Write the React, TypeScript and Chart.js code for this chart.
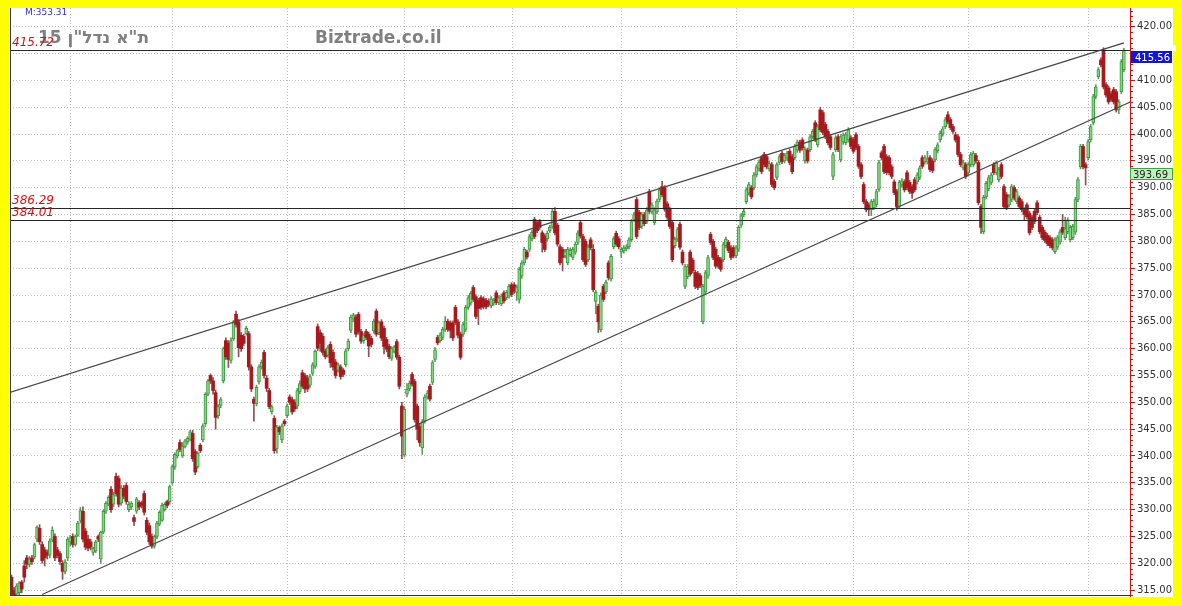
import React, { useEffect, useRef } from 'react';
import { Chart, registerables } from 'chart.js';

Chart.register(...registerables);

// ---- data (daily candles, oldest first) ----
const opens = [
  317.4,315.0,314.3,314.5,316.5,319.5,321.0,319.8,321.0,321.2,
  324.5,326.5,323.5,322.5,322.0,321.5,324.3,325.0,322.5,321.8,
  320.0,318.5,321.0,324.0,325.0,323.5,325.2,328.0,329.7,326.0,
  324.5,324.0,322.0,322.3,325.0,320.8,325.8,329.7,331.0,333.8,
  331.0,336.2,335.8,331.2,334.0,334.5,330.0,330.5,328.5,329.7,
  331.3,331.3,333.0,328.0,327.0,325.0,323.2,325.0,327.3,328.0,
  330.0,331.5,331.5,335.0,337.9,340.0,342.5,340.0,341.8,342.6,
  343.1,344.2,340.8,338.0,342.0,343.0,346.0,351.5,355.0,354.0,
  351.8,347.5,349.4,354.0,361.5,361.0,357.8,361.8,366.4,365.0,
  362.5,362.3,362.8,362.8,356.6,350.6,349.7,353.8,356.6,359.3,
  354.5,352.2,348.2,347.0,341.3,345.3,343.0,346.5,347.5,351.0,
  350.5,
  350.0,349.3,352.0,355.5,355.0,354.5,353.2,355.4,356.7,364.1,
  363.0,362.3,359.5,358.8,360.8,359.3,357.5,356.0,356.6,356.0,
  357.0,360.0,363.4,365.5,365.9,366.4,363.2,361.5,363.2,362.7,
  361.9,363.3,367.0,363.0,365.0,363.8,361.7,360.4,358.2,359.5,
  361.3,358.4,349.3,340.2,351.5,352.5,355.2,353.9,349.3,345.5,
  341.5,346.5,351.0,353.0,353.7,358.0,362.1,361.5,362.1,363.6,
  365.1,364.8,364.8,367.7,365.0,362.7,362.7,363.6,367.7,368.5,
  371.4,369.7,369.0,369.5,369.3,369.0,368.8,368.0,368.5,370.4,368.6,
  368.4,370.4,369.5,369.8,371.9,371.9,370.5,369.2,373.5,376.0,
  378.0,378.5,380.5,384.1,383.5,383.7,381.6,381.0,380.5,382.0,
  382.8,385.6,383.0,379.0,378.5,377.3,376.0,377.5,377.0,378.0,379.8,
  383.5,380.9,380.0,376.6,380.3,378.5,368.8,367.9,363.5,371.6,
  370.6,376.0,373.0,379.0,381.5,380.5,378.0,378.2,378.6,379.0,380.3,
  384.1,387.8,385.4,382.8,385.0,383.7,389.3,385.5,383.5,385.5,
  387.8,390.2,390.0,387.0,386.0,383.5,379.2,380.4,383.2,378.0,
  371.6,373.4,378.0,376.5,374.2,374.0,373.6,365.0,370.6,373.5,
  381.3,380.0,378.5,377.0,376.6,376.6,379.2,379.8,378.8,378.8,
  377.3,378.5,383.0,385.0,387.4,389.0,390.0,390.0,392.4,393.5,
  395.6,396.2,395.8,393.5,394.3,391.2,391.9,394.7,396.4,395.0,
  395.5,396.8,395.8,395.6,397.0,398.5,398.9,395.0,397.0,397.1,
  399.5,402.1,398.0,404.5,404.0,401.8,400.5,399.5,392.1,397.1,
  399.5,395.2,398.5,398.4,398.9,399.3,399.0,399.9,397.7,394.3,
  390.6,387.4,
  386.8,385.9,386.3,386.8,389.7,396.5,397.7,395.8,395.6,393.9,
  391.1,389.3,386.5,390.5,391.1,392.8,391.0,390.2,391.5,391.1,
  391.9,395.6,394.8,394.8,395.6,395.0,395.2,396.9,398.9,400.0,
  401.4,403.6,402.7,401.4,399.9,399.5,396.2,393.7,394.3,
  392.8,394.3,394.3,396.0,394.7,386.5,381.8,388.3,389.8,391.0,
  394.3,392.8,391.5,394.3,390.2,388.7,386.8,387.8,390.0,387.4,
  388.1,387.4,385.9,386.8,385.2,384.5,385.6,387.2,384.5,
  382.6,381.7,381.1,380.7,380.3,378.1,378.9,379.9,382.6,
  380.7,381.8,380.3,380.7,381.7,387.8,393.9,397.7,394.3,395.6,
  398.9,402.1,407.0,410.7,413.8,415.7,409.2,408.6,407.5,408.3,
  407.9,404.5,407.9,412.0,
];

const highs = [
  317.8,315.5,316.2,316.6,316.8,320.5,321.5,321.3,321.5,323.8,
  327.0,327.2,324.0,323.0,322.5,324.6,326.8,325.5,323.0,322.2,
  320.5,320.7,324.8,325.2,325.5,325.3,327.8,330.4,330.5,326.5,
  325.2,324.5,323.0,324.3,325.3,326.0,330.0,331.5,332.6,334.3,
  333.2,336.8,336.3,334.5,334.5,335.0,331.5,331.5,329.0,332.3,
  331.7,331.6,333.5,328.5,327.5,325.5,325.3,327.8,329.8,331.2,
  331.3,331.8,334.6,338.3,340.6,341.3,343.0,342.5,343.1,343.6,
  344.8,344.8,341.2,340.8,342.3,346.0,351.8,354.3,355.3,354.6,
  352.3,349.6,350.9,360.3,362.0,361.5,362.0,365.3,367.0,365.5,
  363.0,362.7,364.2,363.2,357.0,351.0,353.2,357.0,357.9,359.7,
  355.0,352.6,349.5,347.5,345.7,345.6,346.0,346.8,349.7,351.4,
  351.0,
  350.5,352.6,354.0,356.0,355.4,355.0,355.2,357.4,359.8,364.6,
  363.5,362.8,359.9,360.6,361.3,359.8,358.0,357.3,357.0,356.3,
  360.0,361.8,366.3,366.6,366.3,366.8,363.6,362.9,363.6,363.1,
  362.3,365.5,367.4,365.2,365.4,364.2,362.1,360.8,360.4,360.6,
  361.7,358.8,350.0,349.2,353.5,354.0,355.6,354.3,349.7,346.0,
  346.8,351.4,352.2,353.4,357.8,360.2,362.5,363.0,364.0,366.0,
  365.5,365.2,365.2,368.1,365.4,363.1,364.9,368.1,369.9,370.7,
  371.8,370.1,369.4,369.9,369.7,369.4,369.3,369.7,369.4,370.8,369.9,
  370.2,370.8,370.9,372.0,372.3,372.3,371.9,375.2,376.4,378.9,
  378.4,381.3,382.1,384.5,383.9,384.1,382.0,381.4,381.9,383.0,
  386.1,386.3,383.4,379.4,378.9,378.5,378.9,378.8,378.9,379.9,382.0,
  383.9,381.3,380.4,379.4,380.7,379.4,370.9,368.3,370.4,372.0,
  372.8,376.4,377.6,380.9,381.9,380.9,378.9,379.2,379.4,380.7,384.1,
  385.4,388.2,385.8,385.4,385.4,386.3,389.7,387.2,386.3,387.9,
  390.0,391.2,390.4,387.4,386.4,383.9,380.8,382.6,383.6,378.4,
  375.7,375.7,378.4,376.9,374.6,374.4,374.0,372.0,374.6,377.4,
  381.7,380.4,378.9,377.4,377.0,379.8,380.8,380.2,379.2,379.2,
  379.2,383.0,385.2,386.0,390.0,391.0,390.4,392.8,394.3,395.2,
  396.0,396.6,396.2,394.9,394.7,391.6,394.7,396.2,396.8,396.4,
  396.8,397.2,396.2,398.1,398.9,398.9,399.3,397.6,397.4,399.9,
  400.9,402.5,401.8,405.0,404.4,402.2,400.9,399.9,396.6,399.7,
  399.9,399.9,400.2,400.3,401.2,399.7,399.4,400.3,398.1,394.7,
  391.0,387.8,
  387.2,387.8,387.9,389.7,395.1,396.9,398.1,396.2,396.0,394.3,
  391.5,389.7,391.4,391.7,391.5,393.2,391.4,390.6,391.9,392.8,
  394.1,396.0,396.0,396.8,396.0,395.4,397.5,398.4,400.6,401.4,
  403.1,404.2,403.1,401.8,400.3,399.9,396.6,395.1,394.7,
  394.7,396.6,396.8,396.4,395.1,386.9,388.6,391.2,392.3,392.8,
  394.7,395.0,393.8,394.7,390.6,389.1,388.7,390.6,390.4,389.7,
  388.5,387.8,386.3,387.2,385.6,384.9,386.0,387.6,384.9,
  383.0,382.1,381.5,381.1,380.7,380.7,381.1,382.2,385.0,
  384.5,384.4,383.0,383.2,388.2,391.9,398.1,398.1,394.7,399.0,
  401.8,407.4,409.2,412.4,414.2,416.1,409.6,409.0,407.9,408.7,
  408.3,406.4,413.9,416.0,
];

const lows = [
  313.8,313.5,313.8,314.0,314.5,316.5,319.0,319.3,319.8,320.8,
  324.0,323.5,320.0,319.5,320.8,321.0,324.0,320.5,321.0,319.8,
  317.0,318.0,320.5,323.2,323.0,323.2,325.0,327.5,324.0,322.5,
  322.3,322.5,321.5,322.0,324.0,320.0,325.5,329.3,330.7,329.5,
  330.6,332.5,330.5,330.8,332.0,331.0,329.6,330.0,327.0,329.3,
  330.0,330.3,329.0,325.3,323.5,322.8,322.8,324.6,327.0,327.8,
  329.7,330.3,331.0,334.7,337.5,339.6,340.8,339.7,341.5,342.2,
  342.8,339.0,336.5,337.7,340.6,342.6,345.5,351.2,353.5,351.5,
  345.0,347.0,349.0,353.6,358.0,356.5,357.3,361.5,364.0,358.5,
  359.5,360.6,362.5,356.0,352.0,346.5,349.3,353.4,356.2,354.5,
  352.0,348.8,347.8,340.5,340.5,344.0,342.5,345.6,347.1,349.6,
  347.8,
  348.3,348.8,351.6,352.6,351.8,352.0,352.8,355.0,356.3,359.6,
  359.5,358.8,358.1,358.4,356.5,356.0,354.5,355.6,354.3,354.8,
  356.6,359.6,363.0,365.0,362.2,362.7,361.0,361.0,361.7,358.5,
  360.3,362.9,362.3,362.6,361.5,359.0,359.4,358.1,357.8,359.2,
  358.0,352.5,339.5,339.8,351.0,352.1,353.0,346.3,343.0,341.8,
  340.3,346.1,350.6,350.2,353.3,357.6,360.7,361.2,361.7,363.2,
  363.2,362.0,361.5,364.5,362.0,358.0,362.3,363.2,367.3,368.1,
  368.8,365.6,364.5,367.3,367.4,367.4,367.8,367.6,368.1,368.2,368.2,
  368.0,368.5,369.1,369.4,369.7,370.3,369.0,368.5,373.1,375.6,
  376.7,378.1,380.1,380.5,381.6,382.2,378.0,378.1,380.1,381.6,
  382.4,381.2,379.1,375.6,374.5,376.9,375.6,377.2,376.6,377.6,379.4,
  380.6,376.2,375.3,376.2,378.4,370.6,366.5,363.0,363.1,368.8,
  370.2,372.8,372.6,378.6,379.1,378.6,377.0,377.8,378.2,378.6,379.9,
  383.7,380.5,382.2,382.4,382.9,383.3,385.2,385.1,383.1,385.1,
  387.4,388.3,385.6,384.1,382.4,376.2,378.8,380.0,378.5,375.6,
  371.2,373.0,373.5,374.1,371.2,371.0,371.4,364.6,370.2,373.1,
  379.4,376.6,375.0,375.0,374.4,376.2,378.8,377.9,376.6,376.9,
  376.9,378.1,382.6,384.6,387.0,388.6,387.9,389.6,392.0,393.1,
  392.6,393.9,393.5,393.1,390.2,389.6,391.5,394.3,394.5,394.6,
  395.1,394.3,392.6,395.2,396.6,396.6,397.0,394.6,394.6,396.7,
  399.1,398.6,397.6,400.4,399.9,399.1,398.0,397.1,391.5,396.7,
  396.7,394.8,398.1,398.0,398.5,397.3,396.4,397.1,393.6,391.7,
  387.0,385.5,
  384.8,384.8,385.9,386.4,389.3,395.2,392.6,392.4,392.4,391.7,
  388.7,385.8,386.1,390.1,389.2,389.6,388.9,388.0,389.2,390.7,
  391.5,393.6,394.4,394.4,393.0,392.8,394.8,396.5,398.5,399.6,
  401.0,401.9,400.8,400.1,398.5,395.8,393.9,393.3,391.7,
  392.4,393.9,393.9,394.6,386.8,381.5,381.4,387.9,389.4,390.6,
  392.4,392.4,391.1,391.7,386.1,385.9,386.4,387.4,387.7,387.0,
  386.1,385.5,384.0,384.2,381.2,382.2,383.3,385.0,381.4,
  380.3,379.8,379.2,378.8,378.4,377.7,378.5,379.5,381.3,
  380.3,381.4,379.9,380.3,381.3,387.4,393.5,393.5,390.5,395.2,
  398.5,401.7,406.6,410.3,412.5,408.4,406.9,405.6,406.1,405.6,
  404.1,403.8,407.5,411.6,
];

const closes = [
  314.2,314.0,315.8,316.3,315.2,317.4,319.8,320.8,320.3,323.5,
  326.7,324.0,320.5,321.0,321.5,324.2,326.2,321.0,321.5,320.3,
  318.5,320.2,324.5,324.8,323.5,325.0,327.5,329.8,324.5,323.0,
  322.8,323.0,322.8,324.0,324.5,325.8,329.7,331.2,332.3,330.0,
  332.8,333.0,331.0,334.0,332.5,331.5,331.0,331.2,327.8,332.0,
  330.5,330.8,329.5,325.8,324.0,323.2,325.0,327.5,329.5,330.8,
  331.0,330.8,334.3,338.0,340.3,341.0,341.2,341.8,342.8,343.3,
  344.5,339.5,337.0,340.5,341.0,345.6,351.5,354.0,354.0,352.2,
  347.2,349.2,350.5,360.0,358.5,358.0,361.5,365.0,364.5,360.2,
  360.0,361.0,363.8,356.6,352.5,349.8,352.8,356.6,357.5,355.0,
  352.6,349.2,349.2,341.0,345.4,344.5,345.6,346.0,349.3,350.0,
  348.2,
  348.8,352.2,353.5,353.0,352.5,352.5,354.8,357.0,359.5,360.1,
  361.0,359.3,358.5,360.2,357.4,356.6,355.0,357.0,354.8,355.2,
  359.6,361.4,365.9,366.3,362.7,363.2,361.4,362.5,362.1,360.5,
  360.8,365.1,362.7,364.8,362.0,360.4,359.9,358.5,360.0,360.3,
  358.4,353.0,343.7,348.7,352.4,353.6,353.4,346.8,345.0,342.5,
  346.4,351.0,351.7,350.6,357.4,359.8,361.1,362.6,363.6,365.1,
  363.6,363.4,362.0,364.9,362.5,358.4,364.5,367.7,369.5,370.3,
  369.2,366.0,367.5,367.7,367.8,367.8,368.2,369.3,369.0,368.6,369.5,
  369.8,368.9,370.5,371.6,370.1,370.7,371.5,374.8,376.0,378.5,
  377.1,380.9,381.7,380.9,382.0,382.6,379.8,378.5,381.5,382.6,
  385.6,381.6,379.5,376.0,377.0,378.1,378.5,378.4,378.5,379.5,381.6,
  381.0,376.6,375.7,379.0,378.8,371.0,370.5,365.0,370.0,369.2,
  372.4,373.2,377.2,380.5,379.5,379.0,378.5,378.8,379.0,380.3,383.7,
  385.0,380.9,382.6,385.0,383.3,385.9,385.6,386.8,385.9,387.5,
  389.6,388.7,386.0,384.5,382.8,376.6,380.4,382.2,378.9,376.0,
  375.3,375.3,373.9,374.5,371.6,371.4,371.8,371.6,374.2,377.0,
  379.8,377.0,375.4,375.4,374.8,379.4,380.4,378.3,377.0,377.3,
  378.8,382.6,384.8,385.6,389.6,390.6,388.3,392.4,393.9,394.8,
  393.0,394.3,393.9,394.5,390.6,390.0,394.3,395.8,394.9,396.0,
  396.4,394.7,393.0,397.7,398.5,397.0,397.4,397.2,395.0,399.5,
  400.5,399.0,401.4,400.8,400.3,399.5,398.4,397.5,396.2,399.3,
  397.1,399.5,399.8,399.9,400.8,397.7,396.8,397.5,394.0,392.1,
  387.4,385.9,
  385.9,387.4,387.5,389.3,394.7,395.6,393.0,392.8,392.8,392.1,
  389.1,386.5,391.0,391.3,389.6,390.0,389.3,389.0,389.6,392.4,
  393.7,394.0,395.6,395.4,393.4,393.2,397.1,398.0,400.2,401.0,
  402.7,402.3,401.2,400.5,398.9,396.2,394.3,394.7,392.1,
  394.3,396.2,396.4,395.0,387.2,382.6,388.2,390.8,391.9,392.4,
  392.8,394.6,393.4,392.1,386.5,386.3,388.3,390.2,388.1,389.3,
  386.5,385.9,385.0,384.6,381.6,382.6,383.7,385.4,381.8,
  380.7,380.2,379.6,379.2,378.8,380.3,380.7,381.8,381.7,
  382.4,384.0,382.6,382.8,387.8,391.5,397.7,393.9,393.7,398.6,
  401.4,407.0,408.8,412.0,412.9,408.8,407.3,406.0,406.5,406.0,
  404.5,406.0,413.5,415.56,
];

// sessions where the vertical grid lines fall
const gridSessions = [23, 63, 108, 154, 196, 239, 284, 330, 375, 422];
// horizontal support/resistance levels and their captions
const levelValues = [415.72, 386.29, 384.01];
const levelCaptions = ['415.72', '386.29', '384.01'];
// trend lines: two anchor points each (session, price)
const upperTrend = [{ s: -1, v: 351.8 }, { s: 436, v: 417.0 }];
const lowerTrend = [{ s: 12, v: 314.2 }, { s: 439, v: 406.1 }];
const lastPrice = 415.56;
const avgPrice = 393.69;
const avgCaption = 'M:353.31';
const titleText = 'ת"א נדל"ן 15';
const brandText = 'Biztrade.co.il';
const yMin = 313.9;
const yMax = 423.5;
const yStep = 5;

const RED = '#a8181c';
const GREEN_FILL = '#86d486';
const GREEN_EDGE = '#3c9a3c';
const RED_WICK = '#8e5050';
const GREEN_WICK = '#5c9c5c';
const FONT = '"DejaVu Sans", Verdana, sans-serif';

const overlay = {
  id: 'overlay',
  beforeDatasetsDraw(chart: any) {
    const { ctx, chartArea: a, scales } = chart;
    const x = scales.x;
    ctx.save();
    ctx.strokeStyle = '#b9b9b9';
    ctx.lineWidth = 1;
    ctx.setLineDash([1, 2]);
    for (const d of gridSessions) {
      const px = Math.round(x.getPixelForValue(d)) + 0.5;
      ctx.beginPath();
      ctx.moveTo(px, a.top);
      ctx.lineTo(px, a.bottom);
      ctx.stroke();
    }
    ctx.restore();
  },
  afterDraw(chart: any) {
    const { ctx, chartArea: a, scales } = chart;
    const x = scales.x;
    const y = scales.y;
    ctx.save();

    // horizontal levels
    ctx.strokeStyle = '#262626';
    ctx.lineWidth = 1;
    levelValues.forEach((v) => {
      const py = Math.round(y.getPixelForValue(v)) + 0.5;
      ctx.beginPath();
      ctx.moveTo(a.left, py);
      ctx.lineTo(a.right, py);
      ctx.stroke();
    });

    // trend lines, clipped to plot
    ctx.save();
    ctx.beginPath();
    ctx.rect(a.left, a.top, a.right - a.left, a.bottom - a.top);
    ctx.clip();
    ctx.strokeStyle = '#454545';
    ctx.lineWidth = 1.1;
    [upperTrend, lowerTrend].forEach((t) => {
      ctx.beginPath();
      ctx.moveTo(x.getPixelForValue(t[0].s), y.getPixelForValue(t[0].v));
      ctx.lineTo(x.getPixelForValue(t[1].s), y.getPixelForValue(t[1].v));
      ctx.stroke();
    });
    ctx.restore();

    // left and bottom frame
    ctx.strokeStyle = '#333333';
    ctx.lineWidth = 1;
    ctx.beginPath();
    ctx.moveTo(a.left + 0.5, a.top);
    ctx.lineTo(a.left + 0.5, a.bottom);
    ctx.moveTo(a.left, a.bottom - 0.5);
    ctx.lineTo(a.right, a.bottom - 0.5);
    ctx.stroke();

    // minor ticks on the price axis
    ctx.strokeStyle = '#cc1111';
    for (let v = Math.ceil(yMin); v <= yMax; v += 1) {
      if (v % yStep === 0) continue;
      const py = Math.round(y.getPixelForValue(v)) + 0.5;
      ctx.beginPath();
      ctx.moveTo(a.right, py);
      ctx.lineTo(a.right + 3, py);
      ctx.stroke();
    }

    // title & brand
    ctx.fillStyle = '#808080';
    ctx.font = `bold 17px ${FONT}`;
    ctx.textBaseline = 'alphabetic';
    ctx.direction = 'rtl';
    ctx.textAlign = 'right';
    ctx.fillText(titleText, 149, 43);
    ctx.direction = 'ltr';
    ctx.textAlign = 'left';
    ctx.fillText(brandText, 315, 43);

    // small caption top left
    ctx.fillStyle = '#3333cc';
    ctx.font = `9px ${FONT}`;
    ctx.fillText(avgCaption, 25, 15);

    // level captions
    ctx.fillStyle = '#e01010';
    ctx.font = `italic 12px ${FONT}`;
    levelValues.forEach((v, i) => {
      const py = Math.round(y.getPixelForValue(v));
      ctx.fillText(levelCaptions[i], 12, py - 4);
    });

    // price boxes on the axis
    const yLast = Math.round(y.getPixelForValue(lastPrice));
    ctx.fillStyle = '#ffffff';
    ctx.fillRect(a.right + 6, yLast - 6, 40, 6);
    ctx.fillStyle = '#1414d8';
    ctx.fillRect(a.right + 1, yLast, 41, 12);
    ctx.fillStyle = '#ffffff';
    ctx.font = `10px ${FONT}`;
    ctx.fillText(lastPrice.toFixed(2), a.right + 5, yLast + 10);

    const yAvg = Math.round(y.getPixelForValue(avgPrice));
    ctx.fillStyle = '#bdf2bd';
    ctx.fillRect(a.right + 1, yAvg, 41, 12);
    ctx.strokeStyle = '#44a044';
    ctx.strokeRect(a.right + 0.5, yAvg + 0.5, 42, 11);
    ctx.fillStyle = '#222222';
    ctx.fillText(avgPrice.toFixed(2), a.right + 3, yAvg + 10);

    ctx.restore();
  },
};

export default function App() {
  const ref = useRef<HTMLCanvasElement>(null);

  useEffect(() => {
    const canvas = ref.current;
    if (!canvas) return;
    const sessions = opens.map((_, i) => i);
    const isUp = sessions.map((i) => closes[i] >= opens[i]);

    const chart = new Chart(canvas, {
      type: 'bar',
      data: {
        datasets: [
          {
            label: 'range',
            data: sessions.map((i) => ({ x: i, y: [lows[i], highs[i]] })) as any,
            backgroundColor: isUp.map((u) => (u ? GREEN_WICK : RED_WICK)),
            barThickness: 1,
            grouped: false,
            order: 2,
          } as any,
          {
            label: 'body',
            data: sessions.map((i) => ({
              x: i,
              y: [Math.min(opens[i], closes[i]), Math.max(opens[i], closes[i])],
            })) as any,
            backgroundColor: isUp.map((u) => (u ? GREEN_FILL : RED)),
            borderColor: isUp.map((u) => (u ? GREEN_EDGE : RED)),
            borderWidth: isUp.map((u) => (u ? 1 : 0)),
            borderSkipped: false,
            barThickness: 3,
            grouped: false,
            order: 1,
          } as any,
        ],
      },
      options: {
        animation: false,
        responsive: false,
        devicePixelRatio: 1,
        layout: { padding: { left: 10, top: 8, right: 0, bottom: 10 } },
        plugins: { legend: { display: false }, tooltip: { enabled: false } },
        scales: {
          x: { type: 'linear', min: -0.6, max: 438.4, offset: false, display: false },
          y: {
            position: 'right',
            min: yMin,
            max: yMax,
            afterFit: (s: any) => {
              s.width = 52;
            },
            ticks: {
              stepSize: yStep,
              includeBounds: false,
              autoSkip: false,
              padding: 2,
              color: '#333333',
              font: { family: FONT, size: 10 },
              callback: (v: any) => Number(v).toFixed(2),
            },
            grid: {
              color: '#bdbdbd',
              lineWidth: 1,
              tickColor: '#cc1111',
              tickLength: 5,
            },
            border: { color: '#cc1111', width: 1, dash: [1, 2] },
          },
        },
      } as any,
      plugins: [overlay],
    });
    return () => chart.destroy();
  }, []);

  return (
    <div
      style={{
        position: 'fixed',
        left: 0,
        top: 0,
        width: 1182,
        height: 606,
        background: '#ffff00',
        overflow: 'hidden',
      }}
    >
      <div
        style={{ position: 'absolute', left: 9, top: 8, width: 1164, height: 589, background: '#ffffff' }}
      />
      <canvas ref={ref} width={1182} height={606} style={{ position: 'absolute', left: 0, top: 0 }} />
    </div>
  );
}
